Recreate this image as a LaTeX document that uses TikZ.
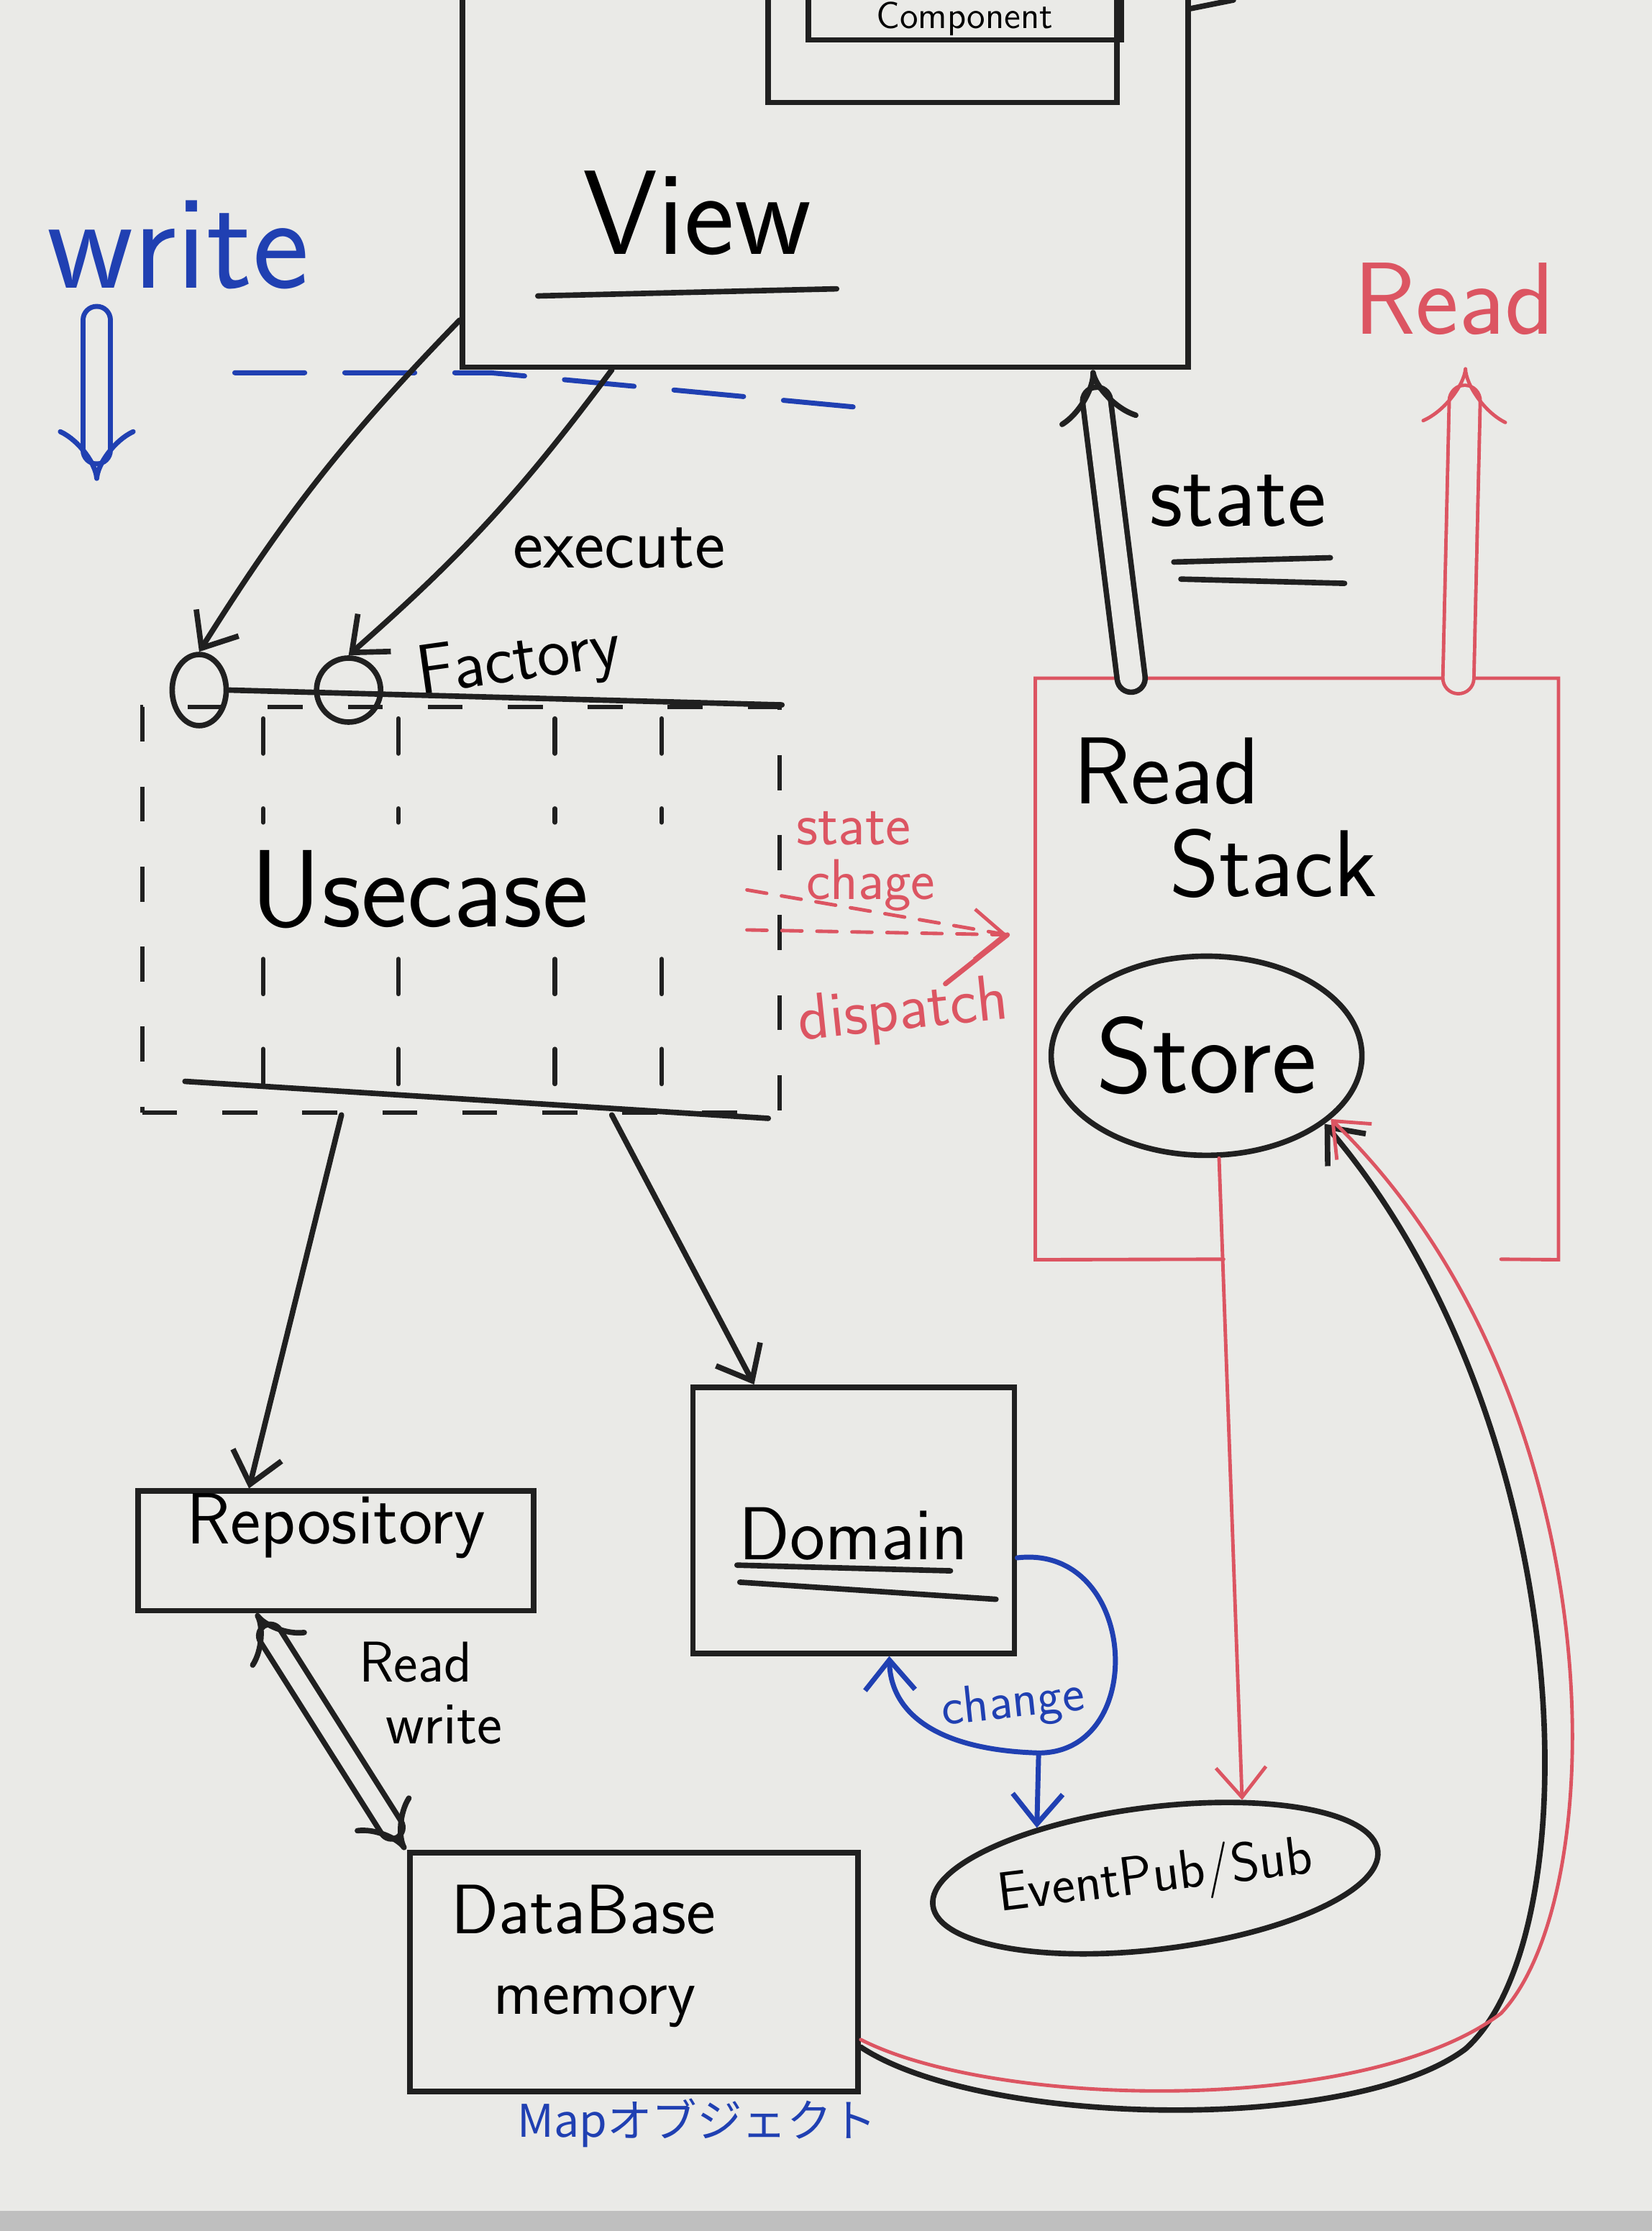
\documentclass[tikz,border=0pt]{standalone}
\usepackage{fontspec}
\newfontfamily\jpfont{Noto Sans CJK JP}
\usetikzlibrary{arrows.meta,positioning,shapes.geometric,fit}
\definecolor{ink}{RGB}{32,32,32}
\definecolor{redm}{RGB}{220,85,98}
\definecolor{bluem}{RGB}{32,64,178}
\definecolor{bg}{RGB}{234,234,231}
\newcommand{\hwsize}[1]{\sffamily\fontsize{#1}{#1}\selectfont}

\begin{document}
\begin{tikzpicture}[x=0.02cm, y=0.02cm, >={Straight Barb[length=12pt,width=20pt]},
  mk/.style={draw=ink, line width=2.2pt, line cap=round},
  box/.style={draw=ink, line width=2.2pt, inner sep=0pt},
  ubox/.style={draw=ink, line width=1.8pt, dash pattern=on 14pt off 18pt, inner sep=0pt},
  fac/.style={draw=ink, line width=2.2pt, ellipse, inner sep=0pt},
  oval/.style={draw=ink, line width=2.2pt, ellipse, inner sep=0pt},
  rl/.style={draw=redm, line width=1.4pt, line cap=round},
  bl/.style={draw=bluem, line width=2pt, line cap=round},
  hw/.style={font=\hwsize{#1}, inner sep=0pt},
  dbl/.style={double=bg, double distance=#1}]
  \useasboundingbox (0,0) rectangle (1161,-1568);
  \fill[bg] (0,0) rectangle (1161,-1568);
  \fill[black!25] (0,-1554) rectangle (1161,-1568);

  % view with its components
  \node[box, fit={(325,12) (835,-258)}] (view) {};
  \node[hw=48] (viewlbl) at (490,-150) {View};
  \draw[mk] (378,-208) -- (588,-203);
  \node[box, fit={(540,30) (785,-72)}] (comp) {};
  \node[box, fit={(568,30) (788,-28)}] (compin) {};
  \node[hw=15, anchor=base] (complbl) at (678,-20) {Component};
  \draw[mk] (view.east |- 0,-6) -- ++(30,6);

  % write side
  \node[hw=54, text=bluem] (write) at (125,-172) {write};
  \coordinate (wtop) at (68,-225);
  \coordinate (wbot) at (68,-338);
  \draw[bl, dbl=9pt, -{Implies[scale=1.8]}] (wtop) -- (wbot);
  \draw[bl, dash pattern=on 28pt off 16pt] (165,-262) -- (345,-262) -- (600,-286);

  % usecase
  \node[fac, minimum width=0.76cm, minimum height=1cm] (f1) at (140,-485) {};
  \node[fac, minimum width=0.9cm, minimum height=0.9cm] (f2) at (245,-485) {};
  \node[hw=28, rotate=8] (factory) at (365,-466) {Factory};
  \node[ubox, fit={(100,-497) (548,-782)}] (usecase) {};
  \node[hw=44] (uclbl) at (295,-625) {Usecase};
  \draw[mk] (f1.east) -- (usecase.north east);
  \draw[mk] (130,-760) -- (540,-786);
  \foreach \x in {185,280,390,465} {
    \draw[mk, line width=1.8pt, dash pattern=on 14pt off 22pt] (\x,-505) -- (\x,-578);
    \draw[mk, line width=1.8pt, dash pattern=on 14pt off 22pt] (\x,-674) -- (\x,-770);
  }

  \draw[mk, ->] (view.west |- 0,-225) to[bend right=6] (f1.north);
  \node[hw=29] (execlbl) at (435,-385) {execute};
  \draw[mk, ->] (view.south -| 430,0) to[bend left=6] (f2.north);

  % state change
  \coordinate (disp) at (708,-657);
  \node[hw=24, text=redm] (stlbl) at (600,-582) {state};
  \node[hw=23, text=redm] (chlbl) at (612,-622) {chage};
  \draw[rl, dash pattern=on 8pt off 6pt] ([xshift=-14pt,yshift=8pt]usecase.east) -- (disp);
  \draw[rl, dash pattern=on 8pt off 6pt, ->] ([xshift=-14pt,yshift=-8pt]usecase.east) -- (disp);
  \node[hw=26, text=redm, rotate=6] (displbl) at (635,-712) {dispatch};
  \draw[rl, line width=2pt] ([xshift=18pt]displbl.north) -- (disp);

  % read stack
  \node[fit={(728,-477) (1095,-885)}, inner sep=0pt] (readstack) {};
  \draw[rl] (860,-885) -- (readstack.south west) -- (readstack.north west)
    -- (readstack.north east) -- (readstack.south east) -- (1055,-885);
  \node[hw=38] (rdlbl) at (820,-542) {Read};
  \node[hw=38] (stklbl) at (895,-607) {Stack};
  \node[oval, minimum width=4cm, minimum height=2.8cm, hw=43] (store) at (848,-742) {Store};

  \draw[mk, dbl=9pt, -{Implies[scale=1.5]}] (readstack.north -| 795,0) -- (view.south -| 768,0);
  \node[hw=37] (statelbl) at (870,-352) {state};
  \draw[mk] (825,-395) -- (935,-392);
  \draw[mk] (830,-407) -- (945,-410);

  \node[hw=41, text=redm] (readlbl) at (1022,-210) {Read};
  \coordinate (rtop) at (1030,-258);
  \draw[rl, dbl=11pt, -{Implies[scale=2]}] (readstack.north -| 1025,0) -- (rtop);

  % repository, domain
  \node[box, fit={(97,-1048) (375,-1132)}, hw=29] (repo) {Repository};
  \node[box, fit={(487,-975) (713,-1162)}] (domain) {};
  \node[hw=30] (domlbl) at (600,-1078) {Domain};
  \draw[mk] (518,-1100) -- (668,-1104);
  \draw[mk] (520,-1112) -- (700,-1124);
  \draw[mk, ->] (usecase.south -| 240,0) -- (repo.north -| 175,0);
  \draw[mk, ->] (usecase.south -| 430,0) -- (domain.north -| 530,0);

  \node[oval, minimum width=5.6cm, minimum height=2cm, rotate=7, hw=22] (eventbus) at (812,-1320) {EventPub/Sub};
  \draw[bl, ->] ([yshift=-15pt]domain.east) .. controls (800,-1085) and (808,-1232) .. (730,-1232)
    coordinate (loopbot) .. controls (660,-1230) and (626,-1205) .. (domain.south -| 625,0);
  \node[hw=21, text=bluem, rotate=6] (chglbl) at (712,-1198) {change};
  \draw[bl, ->] (loopbot) -- (eventbus.150);
  \draw[rl, ->] ([xshift=5pt]store.south) -- (eventbus.35);

  % database
  \node[box, fit={(288,-1302) (603,-1470)}] (database) {};
  \node[hw=28] (dblbl) at (410,-1342) {DataBase};
  \node[hw=26] (memlbl) at (418,-1410) {memory};
  \node[text=bluem, font=\jpfont\fontsize{18}{18}\selectfont, inner sep=0pt] (maplbl) at (490,-1492) {Mapオブジェクト};

  \draw[mk, dbl=7pt, {Implies[scale=1.5]}-{Implies[scale=1.5]}] (repo.south -| 180,0) -- (database.north -| 285,0);
  \node[hw=23] (rwread) at (292,-1168) {Read};
  \node[hw=24] (rwwrite) at (312,-1212) {write};

  \draw[mk, ->] ([yshift=-30pt]database.east) .. controls (690,-1495) and (950,-1500) .. (1030,-1440)
    .. controls (1120,-1360) and (1110,-1000) .. (store.-30);
  \draw[rl, ->] ([yshift=-27pt]database.east) .. controls (700,-1482) and (960,-1487) .. (1055,-1415)
    .. controls (1135,-1330) and (1135,-980) .. (store.-27);
\end{tikzpicture}
\end{document}
